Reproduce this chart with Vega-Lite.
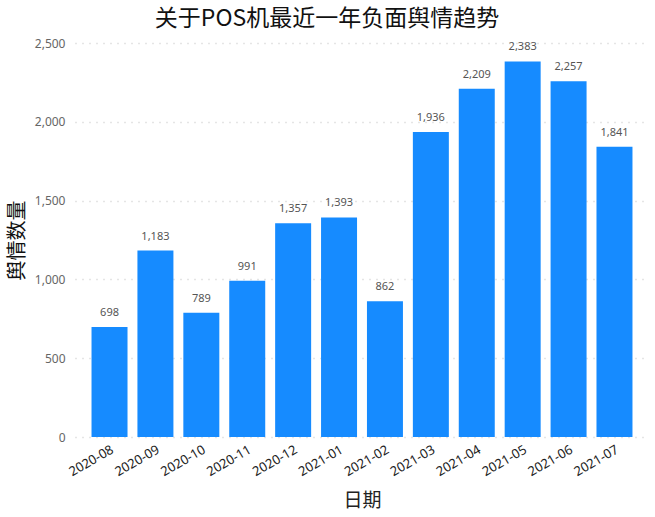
{
  "$schema": "https://vega.github.io/schema/vega-lite/v6.json",
  "autosize": "none",
  "width": 574,
  "height": 394,
  "padding": {"left": 75, "top": 43, "right": 6, "bottom": 80},
  "background": "white",
  "title": {
    "text": "关于POS机最近一年负面舆情趋势",
    "font": "Noto Sans CJK SC",
    "fontSize": 23,
    "fontWeight": "normal",
    "color": "#111111",
    "anchor": "middle",
    "dx": -35,
    "offset": 6
  },
  "config": {
    "view": {"stroke": null},
    "font": "Noto Sans CJK SC"
  },
  "data": {
    "values": [
      {"date": "2020-08", "count": 698},
      {"date": "2020-09", "count": 1183},
      {"date": "2020-10", "count": 789},
      {"date": "2020-11", "count": 991},
      {"date": "2020-12", "count": 1357},
      {"date": "2021-01", "count": 1393},
      {"date": "2021-02", "count": 862},
      {"date": "2021-03", "count": 1936},
      {"date": "2021-04", "count": 2209},
      {"date": "2021-05", "count": 2383},
      {"date": "2021-06", "count": 2257},
      {"date": "2021-07", "count": 1841}
    ]
  },
  "encoding": {
    "x": {
      "field": "date",
      "type": "ordinal",
      "scale": {"paddingInner": 0.216, "paddingOuter": 0.36},
      "axis": {
        "title": "日期",
        "titleFont": "Noto Sans CJK SC",
        "titleFontSize": 19,
        "titleFontWeight": "normal",
        "titleColor": "#222222",
        "titleY": 63,
        "titleBaseline": "middle",
        "labelAngle": -30,
        "labelAlign": "right",
        "labelBaseline": "top",
        "labelFont": "Noto Sans",
        "labelFontSize": 13,
        "labelColor": "#222222",
        "labelPadding": 6,
        "domain": false,
        "ticks": false
      }
    },
    "y": {
      "field": "count",
      "type": "quantitative",
      "scale": {"domain": [0, 2500]},
      "axis": {
        "title": "舆情数量",
        "titleFont": "Noto Sans CJK SC",
        "titleFontSize": 20,
        "titleFontWeight": "normal",
        "titleColor": "#111111",
        "titleX": -58,
        "titleY": 197,
        "titleAngle": -90,
        "titleAlign": "center",
        "titleBaseline": "middle",
        "values": [0, 500, 1000, 1500, 2000, 2500],
        "format": ",d",
        "labelFont": "Noto Sans",
        "labelFontSize": 12,
        "labelColor": "#666666",
        "labelPadding": 10,
        "domain": false,
        "ticks": false,
        "grid": true,
        "gridColor": "#cccccc",
        "gridDash": [1, 6],
        "gridWidth": 1.5
      }
    }
  },
  "layer": [
    {"mark": {"type": "bar", "color": "#168BFF"}},
    {
      "mark": {"type": "text", "dy": -9, "baseline": "bottom", "font": "Noto Sans", "fontSize": 11, "color": "#555555"},
      "encoding": {"text": {"field": "count", "type": "quantitative", "format": ",d"}}
    }
  ]
}
